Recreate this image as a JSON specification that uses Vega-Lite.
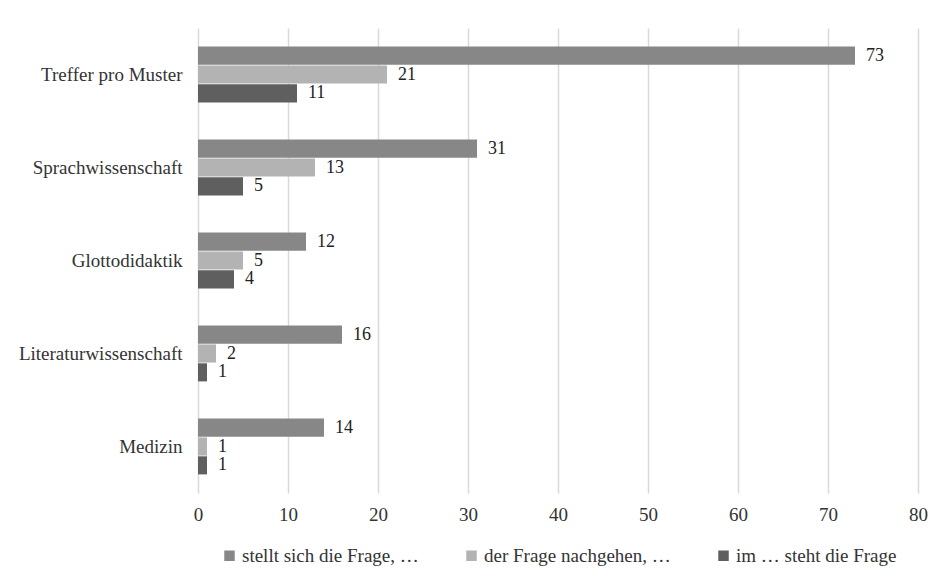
{
  "$schema": "https://vega.github.io/schema/vega-lite/v6.json",
  "width": 720,
  "height": 465,
  "autosize": {"type": "none"},
  "padding": {"left": 198, "top": 28, "right": 27, "bottom": 89},
  "background": "white",
  "config": {
    "font": "Liberation Serif",
    "view": {"stroke": null},
    "axis": {"labelFont": "Liberation Serif", "labelFontSize": 19, "labelColor": "#333333"},
    "legend": {"labelFont": "Liberation Serif", "labelFontSize": 19, "labelColor": "#333333"}
  },
  "data": {
    "values": [
      {"cat": "Treffer pro Muster", "series": "stellt sich die Frage, …", "value": 73},
      {"cat": "Treffer pro Muster", "series": "der Frage nachgehen, …", "value": 21},
      {"cat": "Treffer pro Muster", "series": "im … steht die Frage", "value": 11},
      {"cat": "Sprachwissenschaft", "series": "stellt sich die Frage, …", "value": 31},
      {"cat": "Sprachwissenschaft", "series": "der Frage nachgehen, …", "value": 13},
      {"cat": "Sprachwissenschaft", "series": "im … steht die Frage", "value": 5},
      {"cat": "Glottodidaktik", "series": "stellt sich die Frage, …", "value": 12},
      {"cat": "Glottodidaktik", "series": "der Frage nachgehen, …", "value": 5},
      {"cat": "Glottodidaktik", "series": "im … steht die Frage", "value": 4},
      {"cat": "Literaturwissenschaft", "series": "stellt sich die Frage, …", "value": 16},
      {"cat": "Literaturwissenschaft", "series": "der Frage nachgehen, …", "value": 2},
      {"cat": "Literaturwissenschaft", "series": "im … steht die Frage", "value": 1},
      {"cat": "Medizin", "series": "stellt sich die Frage, …", "value": 14},
      {"cat": "Medizin", "series": "der Frage nachgehen, …", "value": 1},
      {"cat": "Medizin", "series": "im … steht die Frage", "value": 1}
    ]
  },
  "encoding": {
    "y": {
      "field": "cat", "type": "nominal",
      "sort": ["Treffer pro Muster", "Sprachwissenschaft", "Glottodidaktik", "Literaturwissenschaft", "Medizin"],
      "scale": {"paddingInner": 0.4, "paddingOuter": 0.2},
      "axis": {"title": null, "ticks": false, "domain": false, "labelPadding": 16, "labelLimit": 300}
    },
    "yOffset": {
      "field": "series", "type": "nominal",
      "sort": ["stellt sich die Frage, …", "der Frage nachgehen, …", "im … steht die Frage"],
      "scale": {"paddingInner": 0.04, "paddingOuter": 0}
    },
    "x": {
      "field": "value", "type": "quantitative",
      "scale": {"domain": [0, 80], "nice": false},
      "axis": {"title": null, "values": [0,10,20,30,40,50,60,70,80], "labelOverlap": false, "labelFlush": false, "ticks": false, "domain": false, "gridColor": "#d9d9d9", "gridWidth": 1.5, "labelPadding": 12}
    }
  },
  "layer": [
    {
      "mark": {"type": "bar"},
      "encoding": {
        "color": {
          "field": "series", "type": "nominal",
          "sort": ["stellt sich die Frage, …", "der Frage nachgehen, …", "im … steht die Frage"],
          "scale": {"domain": ["stellt sich die Frage, …", "der Frage nachgehen, …", "im … steht die Frage"], "range": ["#878787", "#b3b3b3", "#5f5f5f"]},
          "legend": {"title": null, "orient": "none", "legendX": 22, "legendY": 518, "direction": "horizontal", "symbolType": "square", "symbolSize": 110, "symbolStrokeWidth": 0, "columnPadding": 43, "labelOffset": 3, "labelLimit": 400}
        }
      }
    },
    {
      "mark": {"type": "text", "align": "left", "baseline": "middle", "dx": 11, "fontSize": 18, "color": "#222222", "font": "Liberation Serif"},
      "encoding": {"text": {"field": "value", "type": "quantitative"}}
    }
  ]
}
